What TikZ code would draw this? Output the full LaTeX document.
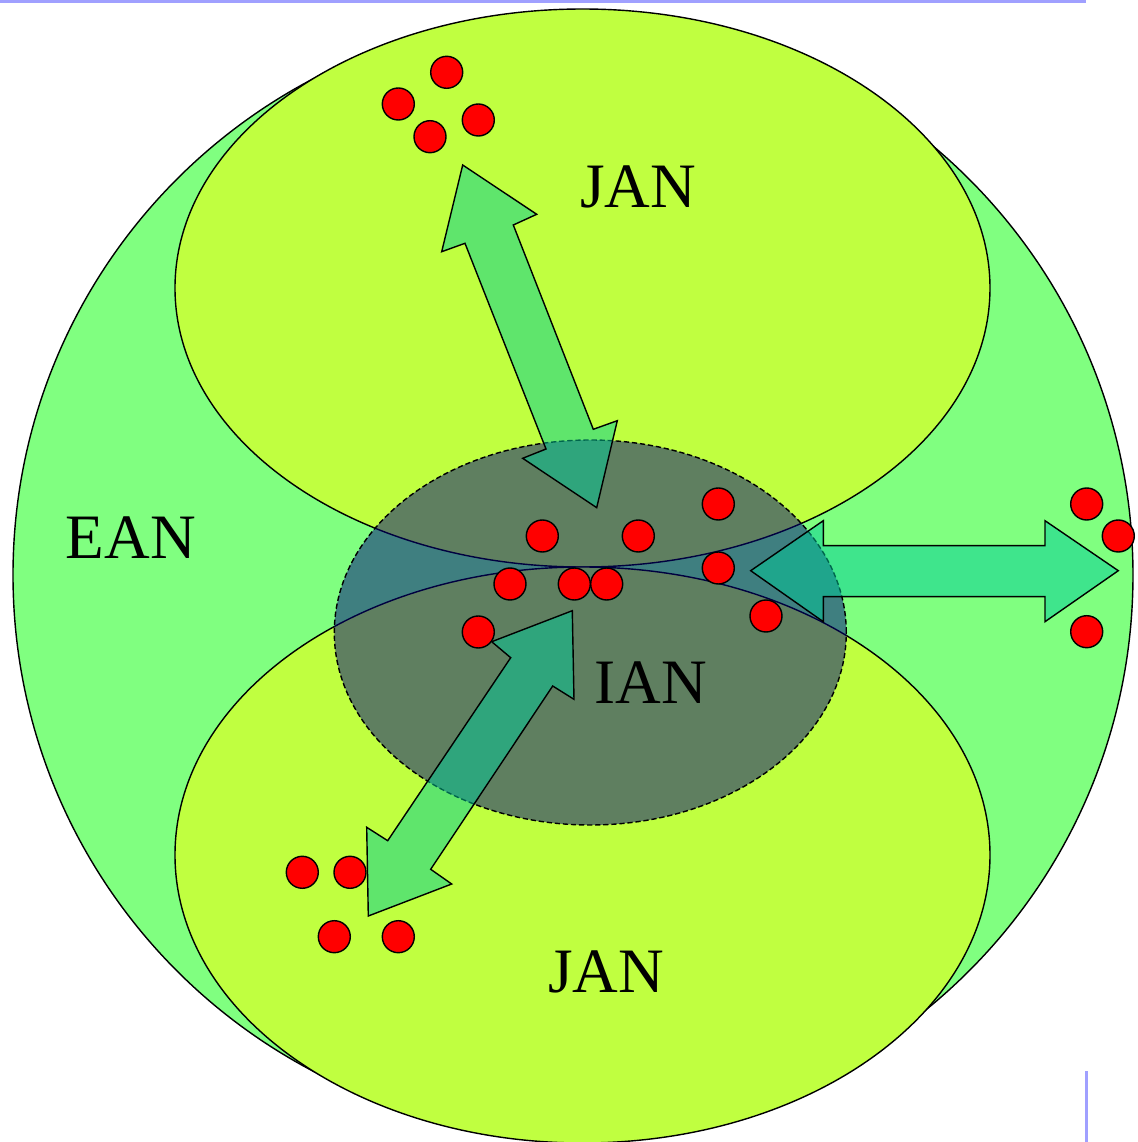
\documentclass[tikz,border=0pt]{standalone}
\usepackage{fontspec}
\setmainfont{Liberation Serif}
\usepackage{tikz}
\usetikzlibrary{positioning}
\definecolor{eangreen}{HTML}{80FF80}
\definecolor{janlime}{HTML}{C0FF40}
\definecolor{iannavy}{HTML}{000080}
\definecolor{linkteal}{HTML}{00CC99}
\definecolor{dotred}{HTML}{FF0000}
\definecolor{edgeblue}{HTML}{A0A0FF}

\begin{document}
\begin{tikzpicture}[
    every node/.style={font=\fontsize{18}{21}\selectfont},
    area/.style={draw=black, line width=0.4pt},
    ian/.style={draw=black, line width=0.4pt, dash pattern=on 1.5pt off 0.8pt, fill=iannavy, fill opacity=0.5},
    link/.style={draw=black, line width=0.4pt, fill=linkteal, fill opacity=0.5, line join=miter},
    dot/.style={circle, draw=black, line width=0.4pt, fill=dotred, minimum size=0.32cm, inner sep=0pt},
    lbl/.style={anchor=base, inner sep=0pt}
]
    \useasboundingbox (0,0) rectangle (11.38,11.42);

    % Frame lines
    \draw[edgeblue, line width=1pt] (0,11.404) -- (10.86,11.404);
    \draw[edgeblue, line width=0.8pt] (10.863,0) -- (10.863,0.71);

    % Networks
    \fill[eangreen] (5.73,5.67) circle (5.6);
    \draw[area] (5.73,5.67) circle (5.6);
    \draw[area, fill=janlime] (5.825,8.54) ellipse [x radius=4.075, y radius=2.79];
    \draw[area, fill=janlime] (5.825,2.87) ellipse [x radius=4.075, y radius=2.88];
    \draw[ian] (5.903,5.095) ellipse [x radius=2.56, y radius=1.925];

    % Links
    \draw[link] (4.627,9.77) -- (5.367,9.277) -- (5.133,9.17) -- (5.933,7.127)
        -- (6.173,7.213) -- (5.967,6.343) -- (5.227,6.837) -- (5.46,6.93)
        -- (4.65,8.987) -- (4.417,8.903) -- cycle;
    \draw[link] (5.723,5.313) -- (5.74,4.427) -- (5.527,4.56) -- (4.307,2.727)
        -- (4.517,2.58) -- (3.683,2.26) -- (3.667,3.147) -- (3.877,3.013)
        -- (5.107,4.843) -- (4.917,5.003) -- cycle;
    \draw[link] (7.507,5.713) -- (8.233,6.213) -- (8.233,5.963) -- (10.45,5.963)
        -- (10.45,6.213) -- (11.183,5.713) -- (10.45,5.203) -- (10.45,5.453)
        -- (8.233,5.453) -- (8.233,5.203) -- cycle;

    % Labels
    \node[lbl] (jantop) at (6.38,9.347) {JAN};
    \node[lbl] (janbot) at (6.06,1.493) {JAN};
    \node[lbl] (ean) at (1.31,5.837) {EAN};
    \node[lbl] (ian) at (6.51,4.38) {IAN};

    % Hosts
    \foreach \x/\y [count=\i] in {4.467/10.697, 3.983/10.38, 4.783/10.22, 4.30/10.053,
        5.423/6.06, 6.383/6.06, 7.183/6.38, 7.183/5.74, 5.10/5.58, 5.743/5.58,
        6.067/5.58, 7.66/5.26, 4.783/5.10,
        10.867/6.38, 11.183/6.06, 10.867/5.103,
        3.023/2.697, 3.50/2.697, 3.343/2.053, 3.983/2.053}
        \node[dot] (host\i) at (\x,\y) {};
\end{tikzpicture}
\end{document}
